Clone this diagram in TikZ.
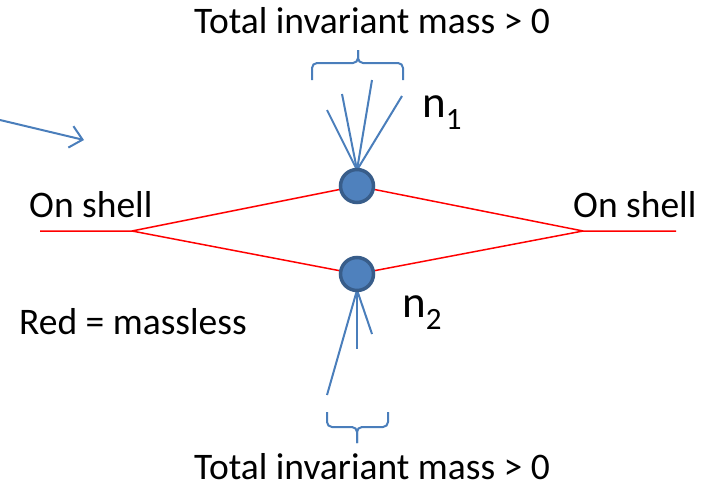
\documentclass[tikz,border=0pt]{standalone}
\usepackage{fontspec}
\setmainfont{Carlito}
\usetikzlibrary{arrows.meta}
\definecolor{lineblue}{RGB}{74,126,187}
\definecolor{vfill}{RGB}{79,129,189}
\definecolor{vdraw}{RGB}{56,93,138}
\tikzset{
  redline/.style={draw=red, line width=1.5pt},
  blueline/.style={draw=lineblue, line width=2pt},
  bracestyle/.style={draw=lineblue, line width=2pt, rounded corners=5pt},
  vert/.style={circle, fill=vfill, draw=vdraw, line width=3.5pt, minimum size=33pt, inner sep=0pt},
  lbl/.style={inner sep=0pt, font=\fontsize{37.5}{40}\selectfont},
  nlbl/.style={inner sep=0pt, font=\fontsize{45}{48}\selectfont},
}
\begin{document}
\begin{tikzpicture}[x=1pt,y=-1pt]
\useasboundingbox (0,0) rectangle (710,488);
% texts
\node[lbl, anchor=base] (ttop) at (372,33) {Total invariant mass > 0};
\node[lbl, anchor=base] (tbot) at (372,479) {Total invariant mass > 0};
\node[lbl, anchor=base west] (osl) at (29,217) {On shell};
\node[lbl, anchor=base west] (osr) at (573,217) {On shell};
\node[lbl, anchor=base west] (red) at (19,334) {Red = massless};
\node[nlbl, anchor=base west] (n1) at (422,117) {n\raisebox{-12pt}{\fontsize{31}{33}\selectfont 1}};
\node[nlbl, anchor=base west] (n2) at (402,317) {n\raisebox{-12pt}{\fontsize{31}{33}\selectfont 2}};
% coordinates
\coordinate (a) at (40,231);
\coordinate (l) at (132,231);
\coordinate (r) at (583,231);
\coordinate (b) at (676,231);
\coordinate (vt) at (357,186);
\coordinate (vb) at (357,274);
% red lines
\draw[redline] (a) -- (l) -- (vt) -- (r) -- (b);
\draw[redline] (l) -- (vb) -- (r);
% top blue lines
\coordinate (t1) at (327,110);
\coordinate (t2) at (342,94);
\coordinate (t3) at (372,80);
\coordinate (t4) at (402,96);
\coordinate (tc) at (357,170);
\foreach \p in {t1,t2,t3,t4} \draw[blueline] (tc) -- (\p);
% bottom blue lines
\coordinate (b1) at (327,395);
\coordinate (b2) at (357,349);
\coordinate (b3) at (372,334);
\coordinate (bc) at (357,290);
\foreach \p in {b1,b2,b3} \draw[blueline] (bc) -- (\p);
% vertices
\node[vert] (v1) at (vt) {};
\node[vert] (v2) at (vb) {};
% braces
\draw[bracestyle] (312,80) -- (312,63) -- (358,63) -- (358,50);
\draw[bracestyle] (403,80) -- (403,63) -- (358,63) -- (358,50);
\draw[bracestyle] (327,412) -- (327,427) -- (357,427) -- (357,443);
\draw[bracestyle] (388,412) -- (388,427) -- (357,427) -- (357,443);
% arrow
\coordinate (as) at (0,120);
\coordinate (ae) at (84,140);
\draw[blueline, -{Straight Barb[length=12pt,width=22pt,line width=2pt]}] (as) -- (ae);
\end{tikzpicture}
\end{document}
